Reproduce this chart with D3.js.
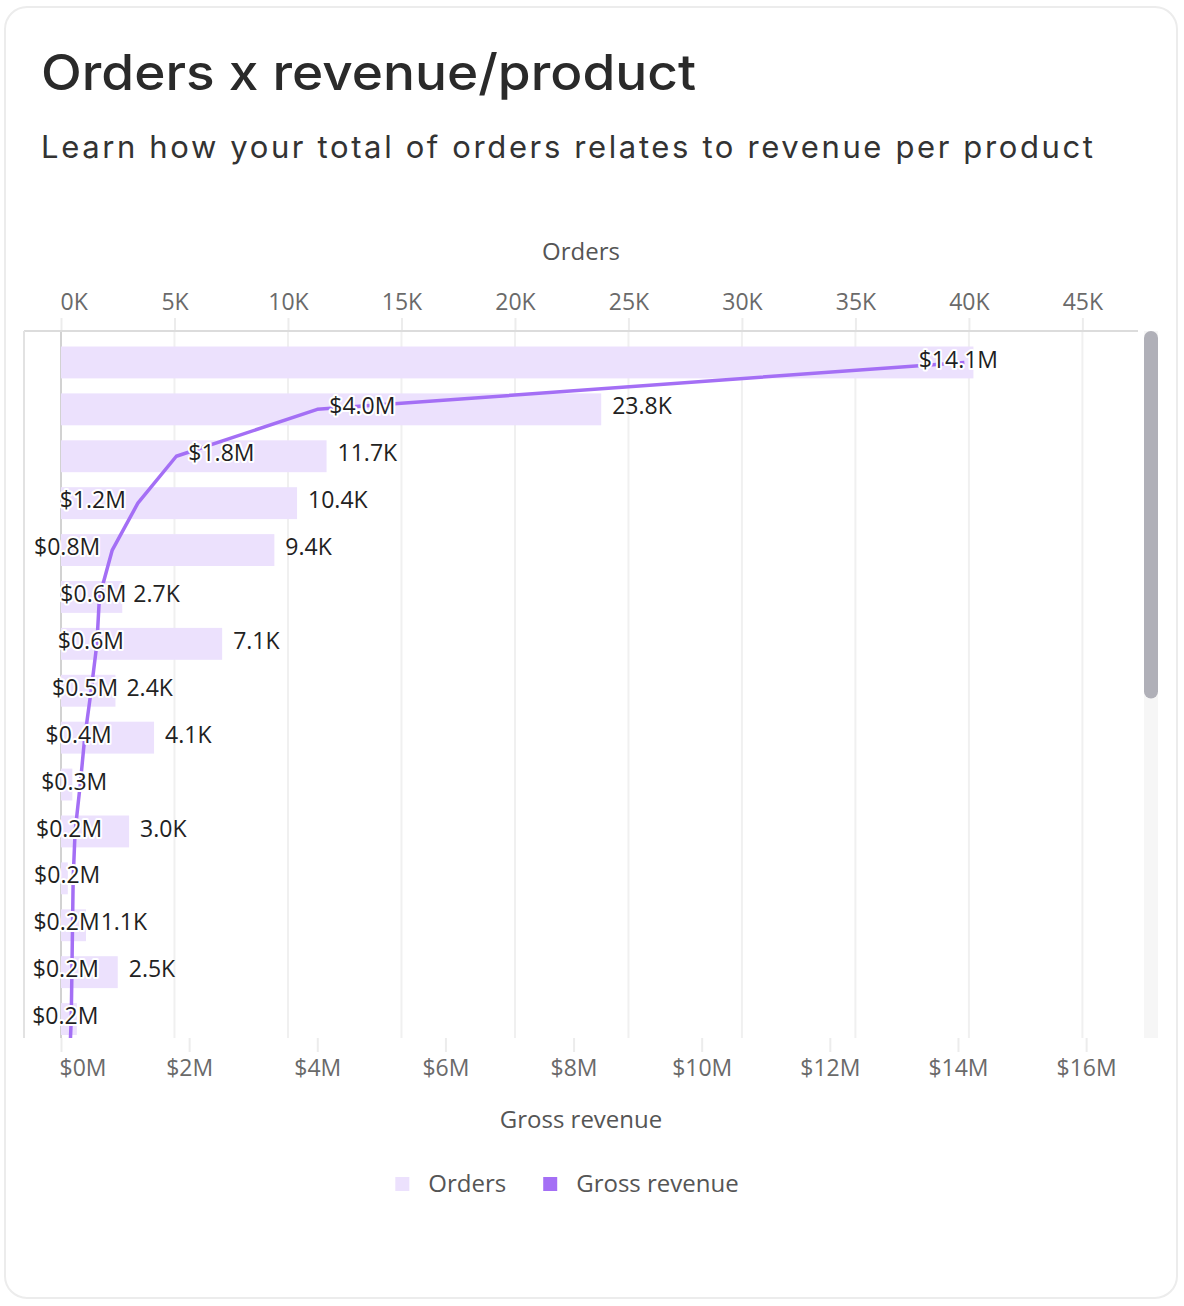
<!DOCTYPE html>
<html>
<head>
<meta charset="utf-8">
<script src="https://cdn.jsdelivr.net/npm/d3@7"></script>
<style>
  body { margin: 0; background: #fff; }
  svg text { font-family: "Open Sans", sans-serif; }
</style>
</head>
<body>
<svg id="chart" width="1184" height="1306"></svg>
<script>
// products in the scrolled view (names are not shown on the chart)
var products = ["Product 1", "Product 2", "Product 3", "Product 4", "Product 5", "Product 6", "Product 7", "Product 8",
    "Product 9", "Product 10", "Product 11", "Product 12", "Product 13", "Product 14", "Product 15", "Product 16"];
var orders = [40200, 23800, 11700, 10400, 9400, 2700, 7100, 2400, 4100, 500, 3000, 300, 1100, 2500, 700, 900];
var revenue = [14.1e6, 4.0e6, 1.8e6, 1.2e6, 0.8e6, 0.6e6, 0.56e6, 0.47e6, 0.37e6, 0.3e6, 0.22e6, 0.19e6, 0.18e6, 0.17e6, 0.16e6, 0.13e6];
var orderTicks = [0, 5000, 10000, 15000, 20000, 25000, 30000, 35000, 40000, 45000];
var revenueTicks = [0, 2e6, 4e6, 6e6, 8e6, 10e6, 12e6, 14e6, 16e6];
var totalProducts = 29;

var barColor = "#ece1fd";
var lineColor = "#a46ff5";

var svg = d3.select("#chart");
var plot = {left: 24, top: 331, right: 1138, bottom: 1038};
var x0 = 61;
var rowStep = 46.9;

// card
svg.append("rect")
    .attr("x", 5).attr("y", 7).attr("width", 1172).attr("height", 1291)
    .attr("rx", 22).attr("fill", "#fff").attr("stroke", "#ececec").attr("stroke-width", 2);

svg.append("text")
    .attr("x", 41).attr("y", 90)
    .attr("textLength", 655).attr("lengthAdjust", "spacingAndGlyphs")
    .style("font-family", "Inter, sans-serif").style("font-weight", 500)
    .style("font-size", "50px").attr("fill", "#2a2a2a")
    .text("Orders x revenue/product");

svg.append("text")
    .attr("x", 41).attr("y", 158)
    .attr("textLength", 1052).attr("lengthAdjust", "spacing")
    .style("font-family", "Inter, sans-serif")
    .style("font-size", "31px").attr("fill", "#333")
    .text("Learn how your total of orders relates to revenue per product");

var xOrders = d3.scaleLinear().domain([0, 47450]).range([x0, plot.right]);
var xRevenue = d3.scaleLinear().domain([0, 16.81e6]).range([x0, plot.right]);
var y = d3.scaleBand()
    .domain(products)
    .range([339, 339 + products.length * rowStep])
    .paddingInner(0.32).paddingOuter(0.16);
var bw = y.bandwidth();

// gridlines (orders)
svg.append("g").selectAll("line")
    .data(orderTicks.filter(function(d) { return d > 0; }))
    .enter().append("line")
    .attr("x1", function(d) { return xOrders(d); })
    .attr("x2", function(d) { return xOrders(d); })
    .attr("y1", plot.top).attr("y2", plot.bottom)
    .attr("stroke", "#f0f0f0").attr("stroke-width", 2);

// top axis
var topAxis = svg.append("g")
    .attr("transform", "translate(0," + plot.top + ")")
    .call(d3.axisTop(xOrders).tickValues(orderTicks).tickSize(13)
        .tickFormat(function(d) { return (d / 1000) + "K"; }));
topAxis.select(".domain").remove();
topAxis.selectAll("line").attr("stroke", "#ececec").attr("stroke-width", 2);
topAxis.selectAll("text")
    .attr("y", -29).attr("dy", "0.35em")
    .attr("fill", "#6a6a6a").style("font-size", "23px");
topAxis.selectAll("text").filter(function(d) { return d === 0; })
    .attr("text-anchor", "start").attr("x", -1);

// bottom axis
var bottomAxis = svg.append("g")
    .attr("transform", "translate(0," + plot.bottom + ")")
    .call(d3.axisBottom(xRevenue).tickValues(revenueTicks).tickSize(14)
        .tickFormat(function(d) { return "$" + (d / 1e6) + "M"; }));
bottomAxis.select(".domain").remove();
bottomAxis.selectAll("line").attr("stroke", "#ececec").attr("stroke-width", 2);
bottomAxis.selectAll("text")
    .attr("y", 30).attr("dy", "0.35em")
    .attr("fill", "#6a6a6a").style("font-size", "23px");
bottomAxis.selectAll("text").filter(function(d) { return d === 0; })
    .attr("text-anchor", "start").attr("x", -2);

svg.append("text")
    .attr("x", (plot.left + plot.right) / 2).attr("y", 252).attr("dy", "0.35em")
    .attr("text-anchor", "middle").attr("fill", "#555").style("font-size", "24px")
    .text("Orders");
svg.append("text")
    .attr("x", (plot.left + plot.right) / 2).attr("y", 1120).attr("dy", "0.35em")
    .attr("text-anchor", "middle").attr("fill", "#555").style("font-size", "24px")
    .text("Gross revenue");

// plot frame
svg.append("line")
    .attr("x1", plot.left).attr("x2", plot.right).attr("y1", plot.top).attr("y2", plot.top)
    .attr("stroke", "#dcdcdc").attr("stroke-width", 2);
svg.append("line")
    .attr("x1", plot.left).attr("x2", plot.left).attr("y1", plot.top).attr("y2", plot.bottom)
    .attr("stroke", "#e2e2e2").attr("stroke-width", 2);

svg.append("clipPath").attr("id", "plotclip")
    .append("rect")
    .attr("x", plot.left + 1).attr("y", plot.top + 1)
    .attr("width", plot.right - plot.left).attr("height", plot.bottom - plot.top - 1);

var g = svg.append("g").attr("clip-path", "url(#plotclip)");

// zero line
g.append("line")
    .attr("x1", x0).attr("x2", x0).attr("y1", plot.top).attr("y2", plot.bottom)
    .attr("stroke", "#d2d2d2").attr("stroke-width", 2);

// bars
g.selectAll(".bar")
    .data(products)
    .enter().append("rect")
    .attr("class", "bar")
    .attr("x", x0)
    .attr("y", function(d) { return y(d); })
    .attr("width", function(d, i) { return xOrders(orders[i]) - x0; })
    .attr("height", bw)
    .attr("fill", barColor);

// revenue line
var line = d3.line()
    .x(function(d, i) { return xRevenue(revenue[i]); })
    .y(function(d) { return y(d) + bw / 2; });
g.append("path")
    .datum(products)
    .attr("d", line)
    .attr("fill", "none")
    .attr("stroke", lineColor)
    .attr("stroke-width", 3.5)
    .attr("stroke-linejoin", "round");

// labels only for rows inside the scrolled view
var shown = products.filter(function(d) { return y(d) + bw / 2 < plot.bottom; });

var revLabels = g.selectAll(".rev")
    .data(shown)
    .enter().append("text")
    .attr("class", "rev")
    .attr("y", function(d) { return y(d) + bw / 2 - 3; })
    .attr("dy", "0.35em")
    .style("font-size", "23px")
    .attr("fill", "#1f1f1f")
    .attr("stroke", "#fff").attr("stroke-width", 4)
    .attr("stroke-linejoin", "round").attr("paint-order", "stroke")
    .text(function(d, i) { return "$" + (revenue[i] / 1e6).toFixed(1) + "M"; });

var ordLabels = g.selectAll(".ord")
    .data(shown)
    .enter().append("text")
    .attr("class", "ord")
    .attr("y", function(d) { return y(d) + bw / 2 - 3; })
    .attr("dy", "0.35em")
    .style("font-size", "23px")
    .attr("fill", "#222")
    .text(function(d, i) { return (orders[i] / 1000).toFixed(1) + "K"; });

var ordW = [], revBox = [];
ordLabels.each(function() { ordW.push(this.getComputedTextLength()); });

// place revenue labels: right of point, left of point, or centred
revLabels.each(function(d, i) {
    var w = this.getComputedTextLength();
    var x = xRevenue(revenue[i]);
    var xNext = i + 1 < revenue.length ? xRevenue(revenue[i + 1]) : x;
    var oStart = xOrders(orders[i]) + 11;
    var start;
    var centred = Math.max(30, x - 6 - w / 2);
    if (x - xNext > 30) {
        start = x + 12;
        if (start < oStart + ordW[i] && start + w > oStart) start = centred;
    } else {
        start = x - 12 - w;
        if (start < 28) start = centred;
    }
    revBox.push([start, start + w]);
    d3.select(this).attr("x", start);
});

// orders labels: after bar end, pushed past or hidden on overlap
ordLabels.each(function(d, i) {
    var start = xOrders(orders[i]) + 11;
    var b = revBox[i];
    if (start < b[1] && start + ordW[i] > b[0]) {
        if (b[1] - start <= 8) start = b[1] + 1;
        else { d3.select(this).remove(); return; }
    }
    d3.select(this).attr("x", start);
});

// scrollbar
var trackH = plot.bottom - plot.top;
var visibleRows = trackH / rowStep;
svg.append("rect")
    .attr("x", 1144).attr("y", plot.top).attr("width", 14).attr("height", trackH)
    .attr("fill", "#f6f6f6");
svg.append("rect")
    .attr("x", 1144).attr("y", plot.top).attr("width", 14)
    .attr("height", trackH * visibleRows / totalProducts)
    .attr("rx", 7).attr("fill", "#b0b0b8");

// legend
var legendItems = [{name: "Orders", color: barColor}, {name: "Gross revenue", color: lineColor}];
var legend = svg.append("g");
var lx = 0;
legendItems.forEach(function(item) {
    var it = legend.append("g").attr("transform", "translate(" + lx + ",0)");
    it.append("rect").attr("x", 0).attr("y", -7).attr("width", 14).attr("height", 14).attr("fill", item.color);
    var t = it.append("text").attr("x", 33).attr("dy", "0.35em")
        .style("font-size", "24px").attr("fill", "#555").text(item.name);
    lx += 33 + t.node().getComputedTextLength() + 37;
});
var legendW = lx - 37;
legend.attr("transform", "translate(" + (567 - legendW / 2) + ",1184)");
</script>
</body>
</html>
